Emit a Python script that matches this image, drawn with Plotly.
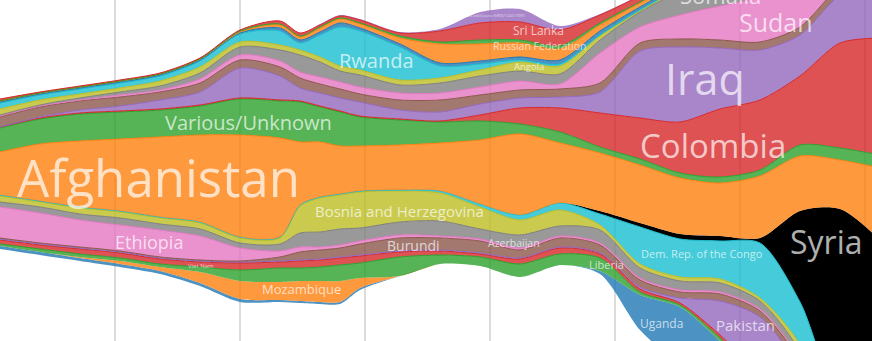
import plotly.graph_objects as go

# sampling positions along the time axis
period = [0, 1, 2, 3, 4, 5, 6, 7, 7.5, 8, 8.5, 9, 10, 11, 12, 13, 14, 15, 16, 17, 18, 19, 20, 21, 22]

# streamgraph baseline offset (bottom of the stack) for each period
offset = [92, 86, 80, 74, 67, 55, 39, 39, 38, 37, 37, 51, 65, 77, 75, 64, 76, 67, 11, -24, -49, -79, -119, -219, -239]

# layer thickness per period, stacked bottom -> top
uganda = [3,3,3,3,3,3,3,2,2,2,2,2,0,0,0,0,0,3,35,58,49,40,40,40,40]
mozambique = [0,0,1,3,4,11,18,18,20,21,21,10,0,0,0,0,0,0,0,0,0,0,0,0,0]
liberia = [2,3,3,3,3,5,11,14,13,14,16,15,19,9,9,13,11,13,3,2,3,3,3,3,3]
viet_nam = [4,4,5,5,5,5,7,6,7,7,7,7,5,4,3,5,6,4,3,2,3,3,3,3,3]
pakistan = [1,1,1,1,1,1,1,1,1,1,1,1,1,1,1,1,1,1,2,5,34,57,44,34,34]
burundi = [1,1,1,1,1,1,1,4,8,9,9,11,13,12,12,8,9,8,7,6,7,6,8,8,8]
ethiopia = [31,30,27,26,27,24,13,6,5,3,3,3,3,2,2,2,2,2,2,2,2,2,2,2,2]
azerbaijan = [5,6,6,7,6,7,5,7,14,15,16,13,13,15,10,13,10,13,10,9,9,8,8,8,8]
bosnia = [6,5,6,6,6,6,5,6,27,34,34,36,31,28,22,15,16,5,4,4,4,3,7,7,7]
drc = [1,1,1,1,1,1,1,1,1,1,1,1,1,2,3,5,7,11,37,38,38,55,43,55,55]
syria = [0,0,0,0,0,0,0,0,0,0,0,0,0,0,0,0,0,3,4,5,5,5,91,191,180]
afghanistan = [43,57,66,72,80,87,102,99,63,55,48,45,45,48,64,81,60,58,58,56,53,62,55,49,72]
various = [24,25,27,27,27,29,36,37,40,35,34,29,25,21,19,10,11,6,6,5,6,6,11,12,13]
colombia = [1,1,1,1,1,1,1,1,1,1,1,1,1,1,6,16,24,34,41,51,68,70,69,105,117]
iraq = [0,1,3,5,9,13,30,24,13,13,13,14,9,9,11,10,11,21,67,75,61,50,41,48,58]
unlabelled_a = [10,10,9,9,8,9,8,9,10,9,9,8,10,12,9,8,8,9,8,8,8,8,8,8,8]
sudan = [1,1,1,2,2,4,5,6,6,7,7,7,7,7,8,9,5,30,16,24,34,44,37,32,32]
somalia = [1,1,2,3,4,6,8,11,17,15,11,12,8,10,11,10,10,13,15,23,26,26,25,25,25]
angola = [6,5,4,4,5,6,5,5,5,5,5,5,5,5,6,9,8,4,1,2,2,2,2,2,2]
rwanda = [6,5,5,5,5,6,8,14,7,22,39,39,33,12,6,2,2,1,1,1,1,1,1,1,1]
unlabelled_b = [1,1,1,1,1,1,1,3,3,3,4,3,3,3,3,3,4,4,3,3,3,3,3,3,3]
russian_federation = [1,1,1,1,1,1,1,3,3,4,4,4,6,19,17,14,11,6,4,4,4,4,4,4,4]
unlabelled_c = [0,0,0,0,0,0,1,1,1,1,1,1,2,2,4,3,3,2,1,1,1,1,1,1,1]
sri_lanka = [2,1,1,1,1,1,1,3,3,2,2,3,3,11,17,18,16,8,6,6,6,6,6,6,6]
serbia_kosovo = [0,0,0,0,0,0,0,0,0,1,1,1,1,2,11,13,4,1,1,1,1,1,1,1,1]

layers = [
    ("Uganda", uganda), ("Mozambique", mozambique), ("Liberia", liberia),
    ("Viet Nam", viet_nam), ("Pakistan", pakistan), ("Burundi", burundi),
    ("Ethiopia", ethiopia), ("Azerbaijan", azerbaijan),
    ("Bosnia and Herzegovina", bosnia), ("Dem. Rep. of the Congo", drc),
    ("Syria", syria), ("Afghanistan", afghanistan),
    ("Various/Unknown", various), ("Colombia", colombia), ("Iraq", iraq),
    ("Unlabelled A", unlabelled_a), ("Sudan", sudan), ("Somalia", somalia),
    ("Angola", angola), ("Rwanda", rwanda), ("Unlabelled B", unlabelled_b),
    ("Russian Federation", russian_federation), ("Unlabelled C", unlabelled_c),
    ("Sri Lanka", sri_lanka),
    ("Serbia and Kosovo (S/RES/1244 (1999))", serbia_kosovo),
]

cat10 = [(31,119,180),(255,127,14),(44,160,44),(214,39,40),(148,103,189),
         (140,86,75),(227,119,194),(127,127,127),(188,189,34),(23,190,207)]
no_stroke = {"Uganda", "Mozambique", "Syria", "Serbia and Kosovo (S/RES/1244 (1999))"}

fig = go.Figure()
fig.add_trace(go.Scatter(
    x=period, y=offset, stackgroup="s", mode="lines",
    line=dict(width=0, color="rgba(0,0,0,0)", shape="spline", smoothing=0.8),
    fillcolor="rgba(0,0,0,0)", hoverinfo="skip", showlegend=False))

for i, (name, vals) in enumerate(layers):
    if name == "Syria":
        line_c, fill_c = "rgb(0,0,0)", "rgba(0,0,0,1)"
    else:
        r, g, b = cat10[i % 10]
        line_c, fill_c = f"rgb({r},{g},{b})", f"rgba({r},{g},{b},0.8)"
    fig.add_trace(go.Scatter(
        x=period, y=vals, name=name, stackgroup="s", mode="lines",
        line=dict(width=0 if name in no_stroke else 1, color=line_c,
                  shape="spline", smoothing=0.8),
        fillcolor=fill_c, showlegend=False))

# label placement (paper pixels: x, y, font size)
labels = [
    ("Afghanistan", 158, 177, 51), ("Various/Unknown", 248, 122, 20),
    ("Rwanda", 376, 60, 20), ("Ethiopia", 149, 242, 18),
    ("Viet Nam", 201, 266, 6), ("Mozambique", 301, 289, 13),
    ("Bosnia and Herzegovina", 399, 211, 15), ("Burundi", 413, 245, 14),
    ("Azerbaijan", 514, 243, 10.5), ("Liberia", 606, 264, 11),
    ("Dem. Rep. of the Congo", 702, 253, 11), ("Uganda", 661, 323, 12),
    ("Pakistan", 745, 325, 15), ("Syria", 826, 241, 32),
    ("Colombia", 713, 145, 33), ("Iraq", 705, 78, 43),
    ("Sudan", 776, 22, 25), ("Somalia", 720, -5, 22),
    ("Sri Lanka", 538, 30, 12), ("Russian Federation", 540, 46, 10.5),
    ("Angola", 529, 66, 9.5),
    ("Serbia and Kosovo (S/RES/1244 (1999))", 493, 16, 3.5),
]
W, H = 872, 341
for text, px, py, size in labels:
    fig.add_annotation(
        text=text, x=px / W, y=1 - py / H, xref="paper", yref="paper",
        xanchor="center", yanchor="middle", showarrow=False,
        font=dict(family="Open Sans", size=size, color="rgba(255,255,255,0.7)"))

fig.update_layout(
    width=W, height=H, margin=dict(l=0, r=0, t=0, b=0),
    paper_bgcolor="white", plot_bgcolor="white", showlegend=False,
    xaxis=dict(range=[0, 21.8], showticklabels=False, zeroline=False,
               showgrid=True, gridcolor="#dcdcdc", gridwidth=2,
               tick0=2.875, dtick=3.125, ticks=""),
    yaxis=dict(range=[0, 341], visible=False, showgrid=False, zeroline=False),
)
fig.write_html("out.html")
